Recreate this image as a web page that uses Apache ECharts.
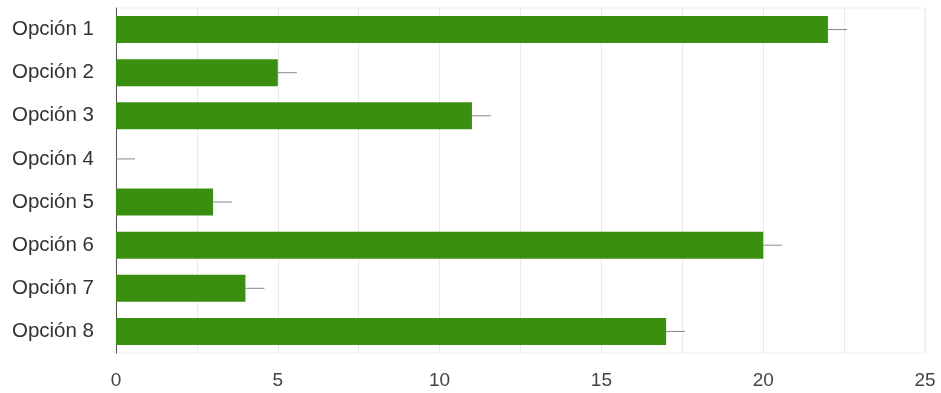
<!DOCTYPE html>
<html>
<head>
<meta charset="utf-8">
<script src="https://cdn.jsdelivr.net/npm/echarts@6/dist/echarts.min.js"></script>
<style>html,body{margin:0;padding:0;background:#fff}#c{width:941px;height:393px}</style>
</head>
<body>
<div id="c"></div>
<script>
const categories = ['Opción 1','Opción 2','Opción 3','Opción 4','Opción 5','Opción 6','Opción 7','Opción 8'];
const values = [22, 5, 11, 0, 3, 20, 4, 17];
const xTicks = [0, 5, 10, 15, 20, 25];

const chart = echarts.init(document.getElementById('c'));
chart.setOption({
  animation: false,
  grid: {left: 116, right: 16, top: 8, bottom: 40, show: true, borderColor: '#eeeeee', borderWidth: 1},
  xAxis: {
    type: 'value', min: 0, max: 25, interval: 2.5,
    axisLine: {show: false}, axisTick: {show: false},
    splitLine: {show: true, lineStyle: {color: '#e9e9e9', width: 1}},
    axisLabel: {
      fontFamily: 'Liberation Sans, Arial, sans-serif', fontSize: 19, color: '#444', margin: 18,
      formatter: v => xTicks.indexOf(v) >= 0 ? String(v) : ''
    }
  },
  yAxis: {
    type: 'category', data: categories, inverse: true,
    axisLine: {show: true, lineStyle: {color: '#555', width: 1}},
    axisTick: {show: false},
    axisLabel: {fontFamily: 'Liberation Sans, Arial, sans-serif', fontSize: 20.5, color: '#333', margin: 22, padding: [3, 0, 0, 0]}
  },
  series: [
    {
      type: 'bar', data: values, barWidth: 27,
      itemStyle: {color: '#3a8f10'},
      z: 2
    },
    {
      type: 'custom',
      data: values.map((v, i) => [v, i]),
      renderItem: function (params, api) {
        const p = api.coord([api.value(0), api.value(1)]);
        return {
          type: 'line',
          shape: {x1: p[0], y1: p[1], x2: p[0] + 19, y2: p[1]},
          style: {stroke: '#8a8a8a', lineWidth: 1}
        };
      },
      z: 1
    }
  ]
});
</script>
</body>
</html>
